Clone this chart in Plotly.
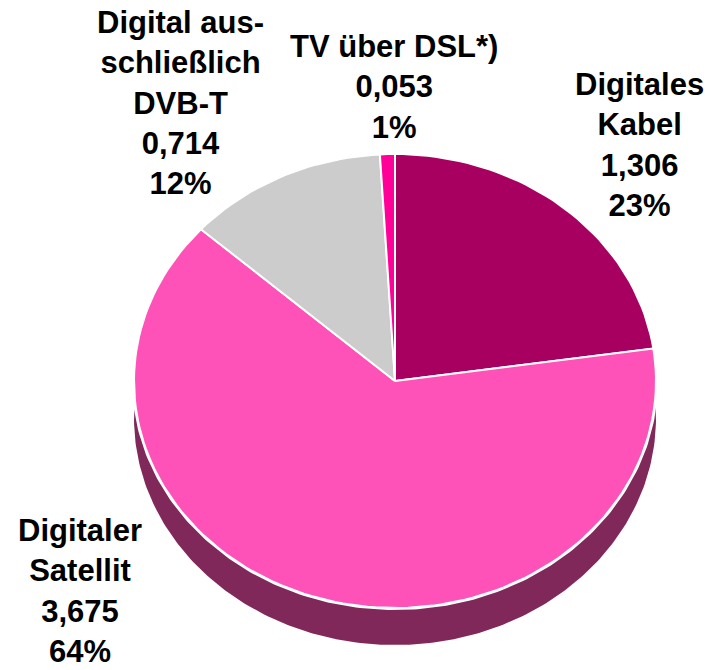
import numpy as np
import plotly.graph_objects as go

# ---- data ----
categories = ["Digitales Kabel", "Digitaler Satellit", "Digital ausschließlich DVB-T", "TV über DSL*)"]
label_names = ["Digitales<br>Kabel", "Digitaler<br>Satellit", "Digital aus-<br>schließlich<br>DVB-T", "TV über DSL*)"]
values = [1.306, 3.675, 0.714, 0.053]
colors = ["#A80060", "#FF52B8", "#CCCCCC", "#FF0099"]
shadow_color = "#80285A"

# ---- layout parameters (pixel space) ----
W, H = 713, 670
cx, cy = 395, 381
rx, ry = 261, 227
depth = 37

label_pos = [(639, 145), (80, 591), (180, 103), (394, 87)]

total = sum(values)
fracs = [v / total for v in values]

def ellipse_pts(a0, a1, ox=0, oy=0, wedge=True, n=200):
    t = np.linspace(a0, a1, max(3, int(n * (a1 - a0) / (2 * np.pi)) + 2))
    xs = cx + ox + rx * np.sin(t)
    ys = cy + oy - ry * np.cos(t)
    if wedge:
        xs = np.concatenate([[cx + ox], xs, [cx + ox]])
        ys = np.concatenate([[cy + oy], ys, [cy + oy]])
    return xs, ys

fig = go.Figure()

# shadow (depth) ellipse
sx, sy = ellipse_pts(0, 2 * np.pi, oy=depth, wedge=False, n=400)
fig.add_trace(go.Scatter(x=sx, y=sy, fill="toself", fillcolor=shadow_color,
                         mode="lines", line=dict(color=shadow_color, width=0),
                         hoverinfo="skip", showlegend=False))

# white outline of top face
ox_, oy_ = ellipse_pts(0, 2 * np.pi, wedge=False, n=400)
fig.add_trace(go.Scatter(x=ox_, y=oy_, fill="toself", fillcolor="white",
                         mode="lines", line=dict(color="white", width=4),
                         hoverinfo="skip", showlegend=False))

# slices
start = 0.0
for name, f, col in zip(categories, fracs, colors):
    a0 = start * 2 * np.pi
    a1 = (start + f) * 2 * np.pi
    xs, ys = ellipse_pts(a0, a1)
    fig.add_trace(go.Scatter(x=xs, y=ys, fill="toself", fillcolor=col,
                             mode="lines", line=dict(color="white", width=2),
                             name=name, hoverinfo="name", showlegend=False))
    start += f

# labels
for name, v, f, (lx, ly) in zip(label_names, values, fracs, label_pos):
    txt = f"{name}<br>{v:.3f}".replace(".", ",") + f"<br>{round(f * 100):.0f}%"
    fig.add_annotation(x=lx, y=ly, text=txt, showarrow=False,
                       xanchor="center", yanchor="middle", align="center",
                       font=dict(family="Liberation Sans, Arial", size=31,
                                 color="black", weight="bold"))

fig.update_layout(
    width=W, height=H,
    margin=dict(l=0, r=0, t=0, b=0),
    paper_bgcolor="white", plot_bgcolor="white",
    xaxis=dict(range=[0, W], visible=False, fixedrange=True),
    yaxis=dict(range=[H, 0], visible=False, fixedrange=True),
    showlegend=False,
)

fig.write_html("out.html", config={"displayModeBar": False},
               post_script="document.body.style.margin='0';")
